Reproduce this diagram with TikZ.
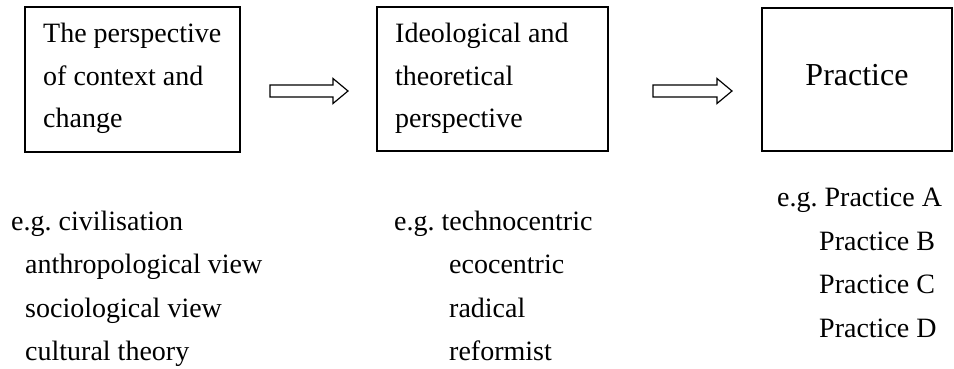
\documentclass[tikz,border=0pt]{standalone}
\usepackage{fontspec}
\setmainfont{Liberation Serif}
\frenchspacing
\begin{document}
\begin{tikzpicture}[x=1pt,y=-1pt,
  box/.style={draw=black,line width=1.6pt,inner sep=0pt,rectangle},
  lbl/.style={inner sep=0pt,anchor=base west,font=\fontsize{28}{34}\selectfont},
  big/.style={inner sep=0pt,anchor=base,font=\fontsize{32}{38}\selectfont},
  blockarrow/.style={draw=black,line width=1.2pt,fill=white,line join=miter}]
\useasboundingbox (0,0) rectangle (954,369);
% boxes
\node[box,minimum width=215pt,minimum height=145pt] (b1) at (132.5,79.5) {};
\node[box,minimum width=231pt,minimum height=144pt] (b2) at (492.5,79) {};
\node[box,minimum width=190pt,minimum height=143pt] (b3) at (857,79.5) {};
% box texts
\node[lbl] (t11) at (43,43) {The perspective};
\node[lbl] (t12) at (43,85.5) {of context and};
\node[lbl] (t13) at (43,128) {change};
\node[lbl] (t21) at (395,43) {Ideological and};
\node[lbl] (t22) at (395,85.5) {theoretical};
\node[lbl] (t23) at (395,128) {perspective};
\node[big] (t31) at (857,86) {Practice};
% block arrows
\coordinate (a1s) at (270,91);
\coordinate (a1e) at (348,91);
\coordinate (a2s) at (653,91);
\coordinate (a2e) at (732,91);
\draw[blockarrow] (a1s) ++(0,-6) -- ++(63,0) -- ++(0,-6.5) -- (a1e) -- ++(-15,12.5) -- ++(0,-6.5) -- ++(-63,0) -- cycle;
\draw[blockarrow] (a2s) ++(0,-6) -- ++(64,0) -- ++(0,-6.5) -- (a2e) -- ++(-15,12.5) -- ++(0,-6.5) -- ++(-64,0) -- cycle;
% lists
\node[lbl] (l11) at (11,230) {e.g. civilisation};
\node[lbl] (l12) at (25,273) {anthropological view};
\node[lbl] (l13) at (25,317) {sociological view};
\node[lbl] (l14) at (25,360) {cultural theory};
\node[lbl] (l21) at (394,230) {e.g. technocentric};
\node[lbl] (l22) at (449,273) {ecocentric};
\node[lbl] (l23) at (449,317) {radical};
\node[lbl] (l24) at (449,360) {reformist};
\node[lbl] (l31) at (777,206) {e.g. Practice A};
\node[lbl] (l32) at (819,250) {Practice B};
\node[lbl] (l33) at (819,293) {Practice C};
\node[lbl] (l34) at (819,337) {Practice D};
\end{tikzpicture}
\end{document}
